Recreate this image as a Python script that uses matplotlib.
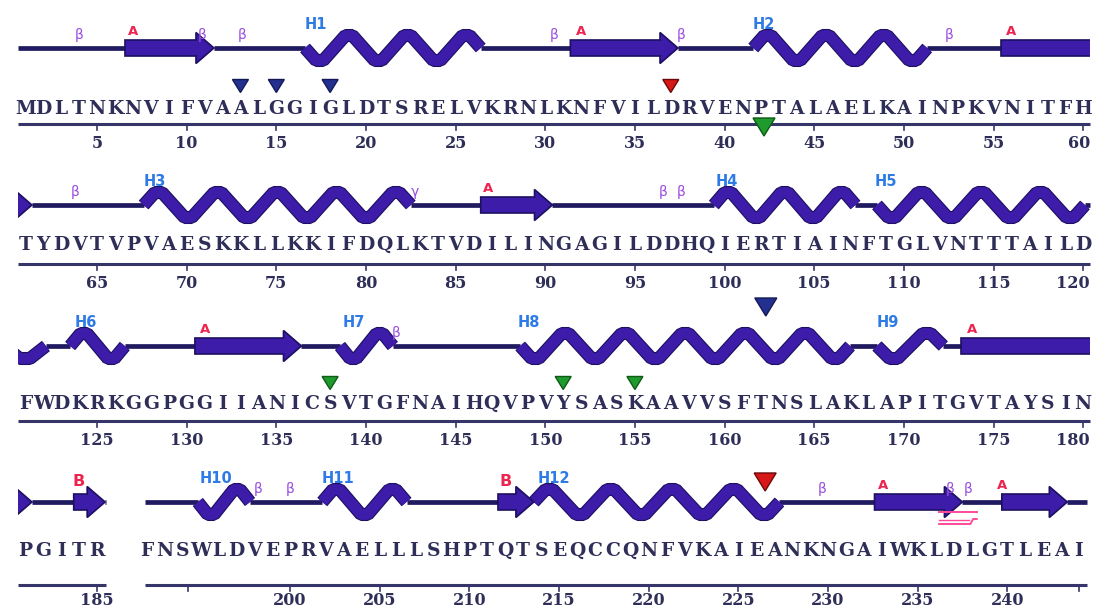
import matplotlib
matplotlib.use("Agg")
import matplotlib.pyplot as plt
from matplotlib.patches import Polygon, Rectangle
import matplotlib.patheffects as pe

# ---------------- data ----------------
seq_1 = "MDLTNKNVIFVAALGGIGLDTSRELVKRNLKNFVILDRVENPTALAELKAINPKVNITFH"
seq_2 = "TYDVTVPVAESKKLLKKIFDQLKTVDILINGAGILDDHQIERTIAINFTGLVNTTTAILD"
seq_3 = "FWDKRKGGPGGIIANICSVTGFNAIHQVPVYSASKAAVVSFTNSLAKLAPITGVTAYSIN"
seq_4a = "PGITR"
seq_4b = "FNSWLDVEPRVAELLLSHPTQTSEQCCQNFVKAIEANKNGAIWKLDLGTLEAI"
seq_starts = [1, 61, 121, 181, 192]

ticks_1 = [5, 10, 15, 20, 25, 30, 35, 40, 45, 50, 55, 60]
ticks_2 = [65, 70, 75, 80, 85, 90, 95, 100, 105, 110, 115, 120]
ticks_3 = [125, 130, 135, 140, 145, 150, 155, 160, 165, 170, 175, 180]
ticks_4a = [185]
ticks_4b = [200, 205, 210, 215, 220, 225, 230, 235, 240]
minor_ticks_4b = [194.3, 244.0]

# helices: (start residue, end residue, first turn +1 up / -1 down, number of turns)
helices_1 = [(16.6, 26.4, -1, 6), (41.6, 51.3, 1, 6)]
helices_2 = [(67.6, 82.5, 1, 9), (99.4, 107.3, 1, 5), (108.5, 120.1, -1, 7)]
helices_3 = [(119.8, 122.15, -1, 1), (123.5, 126.55, 1, 2), (138.55, 141.5, -1, 2),
             (148.6, 167.0, -1, 11), (168.5, 172.2, -1, 2)]
helices_4a = []
helices_4b = [(194.86, 197.77, -1, 2), (201.8, 206.5, 1, 3), (213.6, 227.3, 1, 8)]

# strands: (start residue, end residue, arrow head)
strands_1 = [(6.56, 11.52, True), (31.4, 37.4, True), (55.4, 61.5, False)]
strands_2 = [(60.0, 61.37, True), (86.4, 90.4, True)]
strands_3 = [(130.46, 136.4, True), (173.2, 181.5, False)]
strands_4a = [(180.0, 181.37, True), (183.7, 185.45, True)]
strands_4b = [(211.6, 213.6, True), (232.6, 237.5, True), (239.7, 243.35, True)]

# labels above the structure: (residue, text)
labels_1 = [(4.0, "β"), (7.0, "A"), (10.85, "β"), (13.1, "β"), (17.2, "H1"), (30.5, "β"),
            (32.0, "A"), (37.6, "β"), (42.2, "H2"), (52.5, "β"), (56.0, "A")]
labels_2 = [(63.8, "β"), (68.2, "H3"), (82.7, "γ"), (86.8, "A"), (96.6, "β"), (97.6, "β"),
            (100.1, "H4"), (109.0, "H5")]
labels_3 = [(124.4, "H6"), (131.0, "A"), (139.3, "H7"), (141.7, "β"), (149.1, "H8"),
            (169.1, "H9"), (173.8, "A")]
labels_4a = [(184.0, "B")]
labels_4b = [(195.9, "H10"), (198.2, "β"), (200.0, "β"), (202.7, "H11"), (212.0, "B"),
             (214.7, "H12"), (229.7, "β"), (233.1, "A"), (236.8, "β"), (237.8, "β"), (239.7, "A")]

# triangle markers: (residue, colour, place, size)
marks_1 = [(13, "blue", "seq", "s"), (15, "blue", "seq", "s"), (18, "blue", "seq", "s"),
           (37, "red", "seq", "s"), (42.2, "green", "axis", "l")]
marks_2 = []
marks_3 = [(162.3, "blue", "top", "l"), (138, "green", "seq", "s"),
           (151, "green", "seq", "s"), (155, "green", "seq", "s")]
marks_4a = []
marks_4b = [(226.5, "red", "top", "l")]

bracket_4b = (236.2, 238.3)

# ---------------- layout / style ----------------
W, H = 1093, 607
DX = 17.93
rows_y = [
    dict(ss=48, seqb=114, axis=124, tickb=148, seqtri=86, top=0),
    dict(ss=205, seqb=250, axis=264, tickb=288, seqtri=0, top=0),
    dict(ss=346, seqb=409, axis=421, tickb=445, seqtri=383, top=307),
    dict(ss=502, seqb=556, axis=585, tickb=605, seqtri=0, top=482),
]
panels = [
    dict(row=0, ref=(1, 25.3), ext=(18, 1090), seq=seq_1, start=seq_starts[0], ticks=ticks_1, minor=[],
         hel=helices_1, strd=strands_1, lab=labels_1, marks=marks_1),
    dict(row=1, ref=(61, 25.3), ext=(18, 1090), seq=seq_2, start=seq_starts[1], ticks=ticks_2, minor=[],
         hel=helices_2, strd=strands_2, lab=labels_2, marks=marks_2),
    dict(row=2, ref=(121, 25.3), ext=(18, 1090), seq=seq_3, start=seq_starts[2], ticks=ticks_3, minor=[],
         hel=helices_3, strd=strands_3, lab=labels_3, marks=marks_3),
    dict(row=3, ref=(181, 25.3), ext=(18, 106), seq=seq_4a, start=seq_starts[3], ticks=ticks_4a, minor=[],
         hel=helices_4a, strd=strands_4a, lab=labels_4a, marks=marks_4a),
    dict(row=3, ref=(200, 290.0), ext=(145, 1087), seq=seq_4b, start=seq_starts[4], ticks=ticks_4b,
         minor=minor_ticks_4b, hel=helices_4b, strd=strands_4b, lab=labels_4b, marks=marks_4b),
]

SS_COL = "#3c1ca8"
SS_EDGE = "#1c1060"
COIL_COL = "#201a60"
SEQ_COL = "#2e2e58"
AX_COL = "#35356a"
TRI_COL = {"blue": ("#23308f", "#141a55"), "red": ("#d81818", "#6a0a0a"),
           "green": ("#1f9a2c", "#0e5a16")}
AMP = 12.5

fig = plt.figure(figsize=(W / 100, H / 100), dpi=100)
fig.patch.set_facecolor("white")

edge_fx = [pe.Stroke(linewidth=9.4, foreground=SS_EDGE, joinstyle="bevel"), pe.Normal()]

for p in panels:
    ry = rows_y[p["row"]]
    r0, p0 = p["ref"]
    ax = fig.add_axes([0, 0, 1, 1])
    ax.set_xlim(r0 + (0 - p0) / DX, r0 + (W - p0) / DX)
    ax.set_ylim(H, 0)
    ax.set_axis_off()
    x_lo = r0 + (p["ext"][0] - p0) / DX
    x_hi = r0 + (p["ext"][1] - p0) / DX
    x_edge = r0 + (W - 3 - p0) / DX
    clip = Rectangle((x_lo, 0), x_hi - x_lo, H, transform=ax.transData)
    y0 = ry["ss"]

    # coil = panel extent minus elements
    elems = sorted([(a, b) for a, b, *_ in p["hel"]] + [(a, b) for a, b, _ in p["strd"]])
    cur = x_lo
    for a, b in elems:
        if a > cur:
            ax.plot([cur, a], [y0, y0], color=COIL_COL, lw=3.4, solid_capstyle="butt", zorder=2)
        cur = max(cur, b)
    if cur < x_hi:
        ax.plot([cur, x_hi], [y0, y0], color=COIL_COL, lw=3.4, solid_capstyle="butt", zorder=2)

    # helices
    for a, b, first, n in p["hel"]:
        d = (b - a) / n
        xs, ys = [a], [y0]
        for k in range(n):
            c = a + (k + 0.5) * d
            yk = y0 - AMP * first * (1 if k % 2 == 0 else -1)
            xs += [c - 0.12 * d, c + 0.12 * d]
            ys += [yk, yk]
        xs.append(b)
        ys.append(y0)
        ln, = ax.plot(xs, ys, color=SS_COL, lw=7.8, solid_joinstyle="bevel",
                      solid_capstyle="butt", zorder=3, path_effects=edge_fx)
        ln.set_clip_path(clip)

    # strands
    for a, b, head in p["strd"]:
        hb, hh = 8.0, 15.5
        if head:
            hs = b - 1.0
            pts = [(a, y0 - hb), (hs, y0 - hb), (hs, y0 - hh), (b, y0), (hs, y0 + hh),
                   (hs, y0 + hb), (a, y0 + hb)]
        else:
            pts = [(a, y0 - hb), (b, y0 - hb), (b, y0 + hb), (a, y0 + hb)]
        poly = Polygon(pts, closed=True, facecolor=SS_COL, edgecolor=SS_EDGE, lw=1.2, zorder=4)
        ax.add_patch(poly)
        poly.set_clip_path(clip)

    # labels
    for r, t in p["lab"]:
        if t.startswith("H"):
            ax.text(r, y0 - 19, t, color="#2f7be6", fontsize=10.5, fontweight="bold",
                    ha="center", va="baseline", family="DejaVu Sans", zorder=5)
        elif t in ("A", "B"):
            fs = 9.5 if t == "A" else 11.5
            off = 13 if t == "A" else 16
            ax.text(r, y0 - off, t, color="#ee2450", fontsize=fs, fontweight="bold",
                    ha="center", va="baseline", family="DejaVu Sans", zorder=5)
        else:
            ax.text(r, y0 - 9, t, color="#9a4fe0", fontsize=10, ha="center", va="baseline",
                    family="DejaVu Sans", zorder=5)

    # sequence
    for i, ch in enumerate(p["seq"]):
        ax.text(p["start"] + i, ry["seqb"], ch, color=SEQ_COL, fontsize=13.5, fontweight="bold",
                family="DejaVu Serif", ha="center", va="baseline", zorder=5)

    # axis line and ticks
    ax.plot([x_lo, x_hi], [ry["axis"], ry["axis"]], color=AX_COL, lw=2.2, zorder=2,
            solid_capstyle="butt")
    for t in p["ticks"] + p["minor"]:
        ax.plot([t, t], [ry["axis"], ry["axis"] + 6], color=AX_COL, lw=1.2, zorder=2)
    for t in p["ticks"]:
        px = (t - r0) * DX + p0
        if px > W - 18:
            ax.text(x_edge, ry["tickb"], str(t), color=SEQ_COL, fontsize=11.5, fontweight="bold",
                    family="DejaVu Serif", ha="right", va="baseline", zorder=5)
        else:
            ax.text(t, ry["tickb"], str(t), color=SEQ_COL, fontsize=11.5, fontweight="bold",
                    family="DejaVu Serif", ha="center", va="baseline", zorder=5)

    # triangle marks
    for r, col, place, size in p["marks"]:
        w, h = (16, 13) if size == "s" else (22, 18)
        if place == "seq":
            yc = ry["seqtri"]
        elif place == "axis":
            yc = ry["axis"] + 3
        else:
            yc = ry["top"]
        hw = w / 2 / DX
        tri = Polygon([(r - hw, yc - h / 2), (r + hw, yc - h / 2), (r, yc + h / 2)], closed=True,
                      facecolor=TRI_COL[col][0], edgecolor=TRI_COL[col][1], lw=1.0, zorder=6)
        ax.add_patch(tri)

    if p is panels[4]:
        a, b = bracket_4b
        ax.plot([a, b], [y0 + 10, y0 + 10], color="#ff4a98", lw=1.4, zorder=5)
        ax.plot([a, b - 0.35, b - 0.2, b], [y0 + 22, y0 + 22, y0 + 17, y0 + 17],
                color="#ff4a98", lw=1.4, zorder=5)
        ax.plot([a, b - 0.45], [y0 + 18, y0 + 18], color="#ff4a98", lw=1.0, zorder=5)

fig.savefig("out.png", dpi=100, facecolor="white")
